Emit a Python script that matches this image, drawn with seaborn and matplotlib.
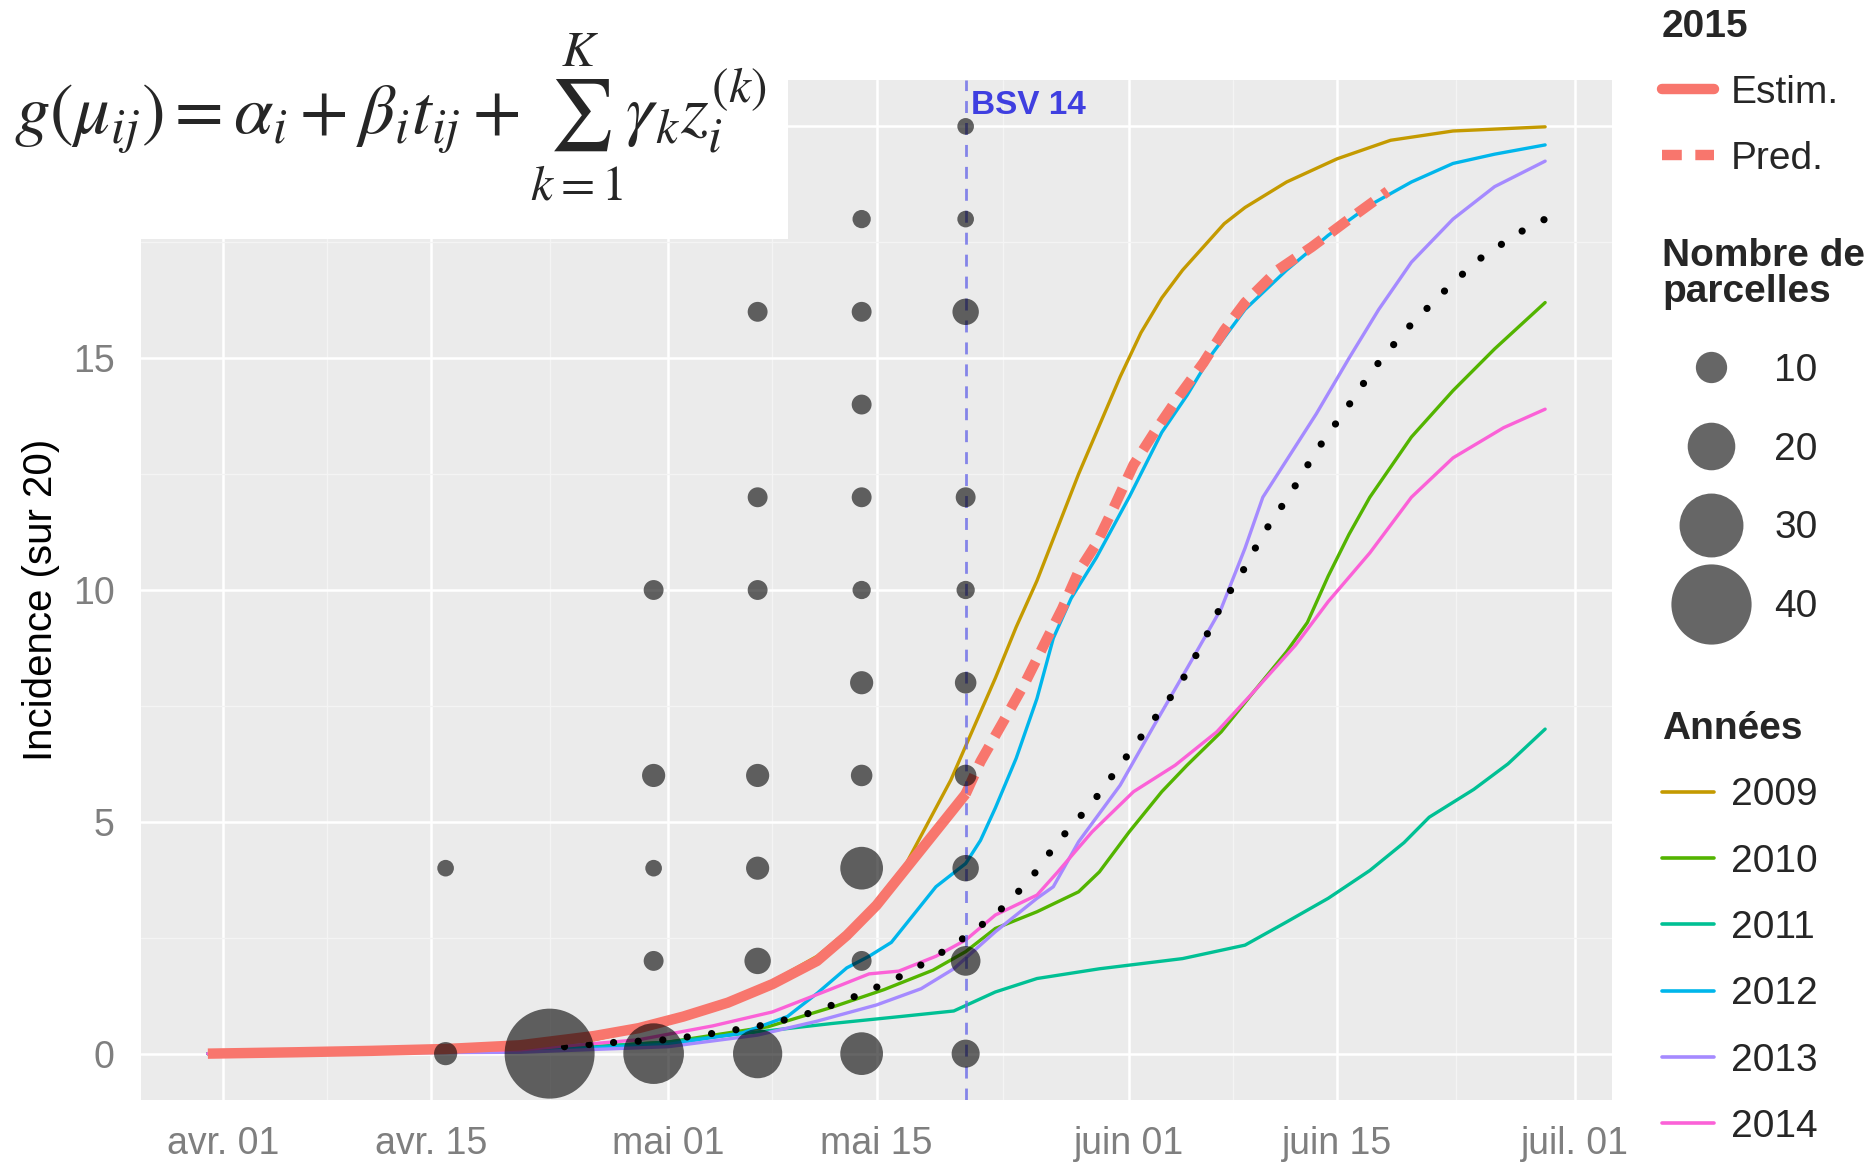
import matplotlib
matplotlib.use("Agg")
import matplotlib.pyplot as plt
from matplotlib.lines import Line2D
from matplotlib.patches import Rectangle
from matplotlib.ticker import FixedLocator
import numpy as np
import pandas as pd
import seaborn as sns

# all x values are days counted from 1 April 2015
season_start = pd.Timestamp("2015-04-01")
tick_dates = ["2015-04-01", "2015-04-15", "2015-05-01", "2015-05-15",
              "2015-06-01", "2015-06-15", "2015-07-01"]
tick_labels = ["avr. 01", "avr. 15", "mai 01", "mai 15", "juin 01", "juin 15", "juil. 01"]
y_ticks = [0, 5, 10, 15, 20]
y_tick_labels = ["0", "5", "10", "15", ""]  # 20 sits under the equation box

years = ["2009", "2010", "2011", "2012", "2013", "2014"]
year_colors = ["#C49A00", "#53B400", "#00C094", "#00B6EB", "#A58AFF", "#FB61D7"]

days_2009 = [-1, 10, 20, 25, 30, 35, 40, 43, 46, 49, 52, 53.4, 54.8, 57.6, 60.4, 61.8, 63.2,
             64.6, 66, 67.4, 68.8, 71.6, 75, 78.6, 82.8, 89]
inc_2009 = [0, 0.03, 0.12, 0.3, 0.65, 1.2, 2.1, 2.9, 4.1, 5.9, 8.1, 9.2, 10.2, 12.5, 14.6,
            15.55, 16.3, 16.9, 17.4, 17.9, 18.25, 18.8, 19.3, 19.7, 19.9, 19.99]

days_2010 = [-1, 20, 30, 36.7, 41, 44.5, 47.8, 50, 52, 54.8, 57.6, 59, 61, 63.2, 64.9, 67.2,
             69.4, 71.6, 73, 74.4, 75.8, 77.2, 80, 82.8, 85.6, 89]
inc_2010 = [0, 0.05, 0.25, 0.58, 1.0, 1.38, 1.8, 2.2, 2.7, 3.06, 3.49, 3.92, 4.78, 5.65, 6.22,
            6.94, 7.81, 8.67, 9.3, 10.3, 11.2, 12.0, 13.3, 14.3, 15.2, 16.2]

days_2011 = [-1, 20, 30, 35.5, 41, 45.6, 49.2, 52, 54.8, 59, 61.8, 64.6, 68.8, 71.6, 74.4,
             77.2, 79.5, 81.2, 84.2, 86.5, 89]
inc_2011 = [0, 0.05, 0.25, 0.45, 0.65, 0.8, 0.92, 1.33, 1.62, 1.83, 1.94, 2.05, 2.34, 2.84,
            3.35, 3.95, 4.55, 5.1, 5.7, 6.25, 7.0]

days_2012 = [-1, 20, 30, 35, 38, 40, 42, 43.5, 45, 46.5, 48, 50, 51, 52, 53.4, 54.8, 55.9,
             57.1, 58.8, 61, 63.2, 64.9, 66.6, 68.8, 71.6, 74.4, 77.2, 80, 82.8, 85.6, 89]
inc_2012 = [0, 0.05, 0.2, 0.45, 0.8, 1.3, 1.85, 2.1, 2.4, 3.0, 3.6, 4.1, 4.6, 5.3, 6.37,
            7.66, 8.96, 9.82, 10.7, 12.0, 13.4, 14.2, 15.1, 16.05, 16.9, 17.65, 18.3, 18.8,
            19.2, 19.4, 19.6]

days_2013 = [-1, 20, 30, 36, 40, 44, 47, 49.2, 52, 54.8, 55.9, 57.6, 60.4, 62.7, 64.9, 67.2,
             68.8, 70, 71.6, 73.6, 75.8, 77.8, 80, 82.8, 85.6, 89]
inc_2013 = [0, 0.03, 0.15, 0.4, 0.7, 1.05, 1.4, 1.83, 2.63, 3.35, 3.6, 4.57, 5.79, 7.09, 8.31,
            9.6, 10.9, 12.0, 12.8, 13.8, 15.0, 16.05, 17.07, 18.0, 18.7, 19.25]

days_2014 = [-1, 20, 28, 33, 37, 41, 43.5, 45.5, 48, 50, 52, 54.8, 56.2, 58.5, 61.3, 64.1,
             66.9, 69.4, 72.2, 74.4, 77.2, 80, 82.8, 86.2, 89]
inc_2014 = [0, 0.08, 0.3, 0.6, 0.9, 1.4, 1.72, 1.78, 2.1, 2.45, 2.99, 3.42, 3.92, 4.78, 5.65,
            6.22, 6.94, 7.81, 8.81, 9.75, 10.8, 12.0, 12.85, 13.5, 13.9]

# 2015 model: estimated up to the BSV, predicted afterwards
days_estim = [-1, 5, 10, 15, 20, 25, 28, 31, 34, 37, 40, 42, 44, 46, 48, 50]
inc_estim = [0, 0.03, 0.06, 0.1, 0.18, 0.38, 0.55, 0.8, 1.1, 1.5, 2.0, 2.55, 3.2, 4.0, 4.8, 5.6]
days_pred = [50, 51, 52.6, 54, 55.4, 56.5, 57.6, 58.8, 60, 61.3, 62.7, 64.4, 66, 67.4, 68.8,
             71, 73.3, 75.6, 78.4]
inc_pred = [5.6, 6.3, 7.2, 8.0, 8.9, 9.6, 10.4, 11.0, 11.8, 12.7, 13.4, 14.2, 14.9, 15.6, 16.2,
            16.9, 17.4, 17.95, 18.6]

# black dotted reference curve
days_ref = [23, 26.3, 29.9, 33.3, 36.7, 39.8, 43.1, 46.1, 49.2, 52, 54.3, 56.2, 58.5, 60.4,
            62.4, 64.4, 66, 67.4, 68.3, 70, 71.9, 73.6, 75.6, 77.4, 79.6, 81.9, 84.4, 87.2, 89]
inc_ref = [0.15, 0.24, 0.3, 0.45, 0.63, 0.9, 1.3, 1.74, 2.34, 2.99, 3.74, 4.57, 5.4, 6.22,
           7.09, 7.95, 8.88, 9.8, 10.2, 11.2, 12.1, 13.0, 13.9, 14.75, 15.6, 16.35, 17.1, 17.7, 18.0]

# 2015 observations: date, incidence, number of plots
obs_day = [15, 15, 22, 29, 29, 29, 29, 29, 36, 36, 36, 36, 36, 36, 36,
           43, 43, 43, 43, 43, 43, 43, 43, 43, 43, 50, 50, 50, 50, 50, 50, 50, 50, 50, 50]
obs_inc = [0, 4, 0, 0, 2, 4, 6, 10, 0, 2, 4, 6, 10, 12, 16,
           0, 2, 4, 6, 8, 10, 12, 14, 16, 18, 0, 2, 4, 6, 8, 10, 12, 16, 18, 20]
obs_n = [5, 1, 46, 28, 3, 1, 5, 3, 21, 7, 5, 5, 3, 3, 3,
         17, 3, 17, 4, 5, 2, 3, 3, 3, 2, 8, 9, 7, 4, 4, 2, 3, 7, 1, 1]
size_breaks = [10, 20, 30, 40]

bsv_day = 50
bsv_label = "BSV 14"


def marker_diam(n):
    # diameter in points, linear in the count (old ggplot scale_size)
    return 0.72 * (15 + 1.63 * n)


curves = pd.concat([
    pd.DataFrame({"day": d, "inc": v, "year": y})
    for d, v, y in zip([days_2009, days_2010, days_2011, days_2012, days_2013, days_2014],
                       [inc_2009, inc_2010, inc_2011, inc_2012, inc_2013, inc_2014], years)
])
obs = pd.DataFrame({"day": obs_day, "inc": obs_inc, "n": obs_n})

sns.set_theme(style="darkgrid", rc={"axes.facecolor": "#EBEBEB", "grid.color": "white"})
plt.rcParams["font.family"] = ["Liberation Sans", "DejaVu Sans"]
plt.rcParams["mathtext.fontset"] = "stix"

fig = plt.figure(figsize=(18.72, 11.67), dpi=100)
ax = fig.add_axes([141 / 1872, 1 - 1100 / 1167, 1471 / 1872, 1020 / 1167])

palette = dict(zip(years, year_colors))
sns.lineplot(data=curves, x="day", y="inc", hue="year", palette=palette, linewidth=2.4,
             estimator=None, legend=False, ax=ax, zorder=2)
sns.lineplot(x=days_ref, y=inc_ref, color="black", linewidth=5.2, ax=ax, zorder=3,
             linestyle=(0, (0.01, 3.4)), dash_capstyle="round")
sns.lineplot(x=days_estim, y=inc_estim, color="#F8766D", linewidth=7.5, ax=ax, zorder=4,
             solid_capstyle="butt")
sns.lineplot(x=days_pred, y=inc_pred, color="#F8766D", linewidth=7.5, ax=ax, zorder=4,
             linestyle=(0, (2.0, 1.1)))
ax.axvline(bsv_day, color="#6B6BE8", alpha=0.8, linewidth=2, linestyle=(0, (4.3, 3.6)), zorder=4.5)
ax.text(bsv_day + 0.35, 20.45, bsv_label, color="#3F3FE0", fontsize=24, fontweight="bold",
        va="center", ha="left", zorder=6)

size_map = {n: marker_diam(n) ** 2 for n in sorted(set(obs_n))}
sns.scatterplot(data=obs, x="day", y="inc", size="n", sizes=size_map, color="black",
                alpha=0.6, linewidth=0, legend=False, ax=ax, zorder=5)

# axes
tick_pos = [(pd.Timestamp(d) - season_start).days for d in tick_dates]
ax.set_xlim(-5.5, 93.5)
ax.set_ylim(-1.0, 21.0)
ax.set_xticks(tick_pos)
ax.set_xticklabels(tick_labels)
ax.set_yticks(y_ticks)
ax.set_yticklabels(y_tick_labels)
ax.xaxis.set_minor_locator(FixedLocator(np.convolve(tick_pos, [0.5, 0.5], "valid")))
ax.yaxis.set_minor_locator(FixedLocator([2.5, 7.5, 12.5, 17.5]))
ax.grid(which="major", color="white", linewidth=1.8)
ax.grid(which="minor", color="#F4F4F4", linewidth=0.9)
ax.tick_params(which="major", length=9, width=1.2, color="#7F7F7F", labelcolor="#7F7F7F",
               labelsize=27, direction="out", pad=10)
ax.tick_params(which="minor", length=0)
ax.set_xlabel("")
ax.set_ylabel("Incidence (sur 20)", fontsize=29, color="black")
ax.yaxis.set_label_coords(-0.055, 0.49)
for s in ax.spines.values():
    s.set_visible(False)

# legends on the right
leg_kw = dict(loc="upper left", bbox_transform=fig.transFigure, frameon=False, fontsize=28,
              title_fontproperties={"weight": "bold", "size": 28}, alignment="left",
              borderpad=0, borderaxespad=0)
h2015 = [Line2D([], [], color="#F8766D", linewidth=7.5),
         Line2D([], [], color="#F8766D", linewidth=7.5, linestyle=(0, (1.9, 1.3)))]
leg1 = ax.legend(h2015, ["Estim.", "Pred."], title="2015", bbox_to_anchor=(1662 / 1872, 1 - 9 / 1167),
                 handlelength=1.34, handletextpad=0.44, labelspacing=0.77, **leg_kw)
ax.add_artist(leg1)

hsize = [Line2D([], [], marker="o", linestyle="", markersize=marker_diam(n), markerfacecolor="black",
                markeredgewidth=0, alpha=0.6) for n in size_breaks]
leg2 = ax.legend(hsize, [str(n) for n in size_breaks], title="Nombre de\nparcelles",
                 bbox_to_anchor=(1662 / 1872, 1 - 238 / 1167),
                 handlelength=2.5, handletextpad=0.39, labelspacing=1.1, **leg_kw)
leg2.get_title().set_linespacing(1.0)
ax.add_artist(leg2)

hyear = [Line2D([], [], color=c, linewidth=2.6) for c in year_colors]
ax.legend(hyear, years, title="Années", bbox_to_anchor=(1662 / 1872, 1 - 711 / 1167),
          handlelength=1.34, handletextpad=0.44, labelspacing=0.78, **leg_kw)

# model equation in a white box over the top-left corner
fig.patches.append(Rectangle((0, 1 - 239 / 1167), 788 / 1872, 239 / 1167, transform=fig.transFigure,
                             facecolor="white", edgecolor="none", zorder=10))
fig.text(14 / 1872, 1 - 117 / 1167,
         r"$g\left(\mu_{ij}\right)=\alpha_i+\beta_i t_{ij}+\sum_{k{=}1}^{K}\gamma_k z_i^{(k)}$",
         fontsize=51, va="center", ha="left", zorder=11)

fig.savefig("out.png", dpi=100)
